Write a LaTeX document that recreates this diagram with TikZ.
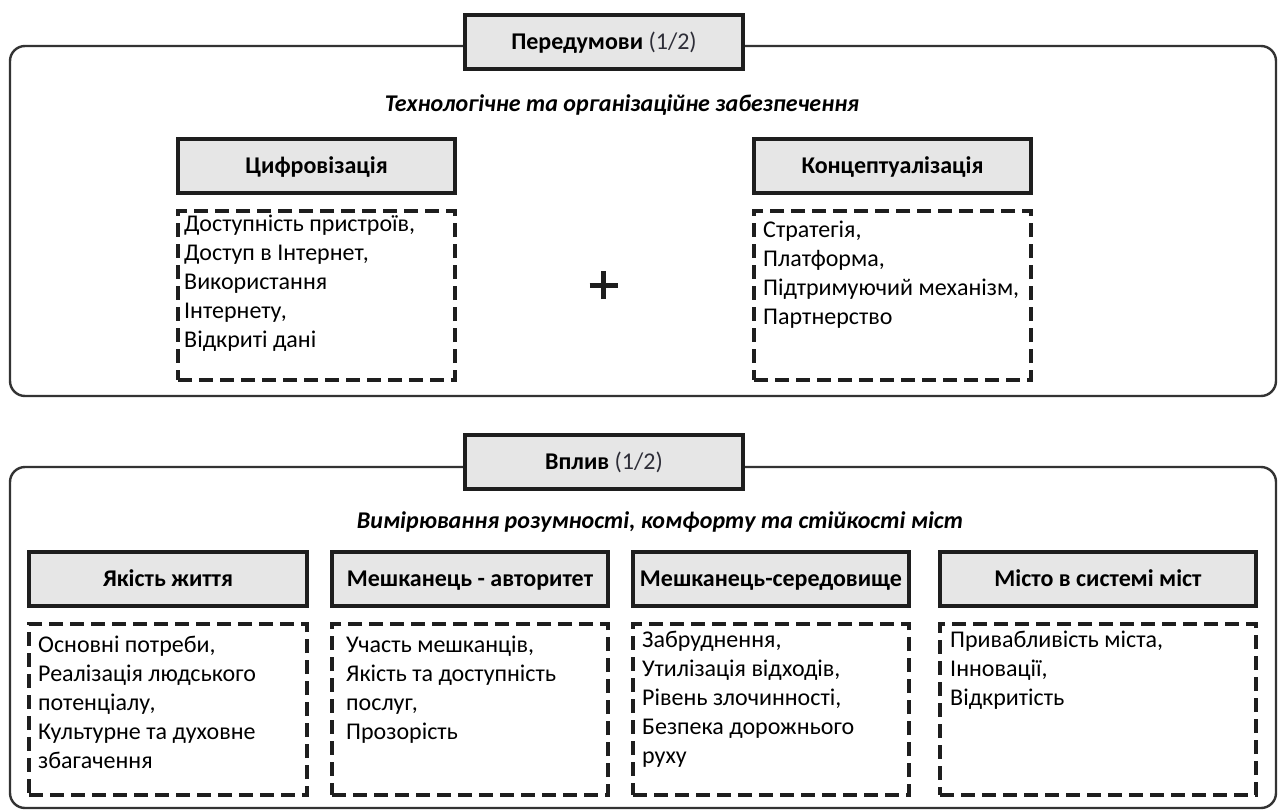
\documentclass[tikz,border=0pt]{standalone}
\usepackage{fontspec}
\setmainfont{Carlito}
\definecolor{boxgray}{HTML}{E6E6E6}
\definecolor{inkline}{HTML}{1E1E1E}
\definecolor{framecol}{HTML}{333333}
\definecolor{softink}{HTML}{2E2E38}
\tikzset{
  panel/.style={draw=framecol, line width=2.4pt, rounded corners=15pt},
  headbox/.style={draw=inkline, line width=4pt, fill=boxgray, inner sep=0pt,
    text height=18pt, text depth=3pt,
    font=\fontsize{24}{29}\selectfont\bfseries},
  listbox/.style={draw=inkline, line width=3.4pt, dash pattern=on 14pt off 7pt, inner sep=0pt},
  listtext/.style={anchor=base west, inner sep=0pt, font=\fontsize{24}{29}\selectfont},
  subtitle/.style={inner sep=0pt, font=\fontsize{24}{29}\selectfont\bfseries\itshape},
}
\newcommand{\itemlist}[2]{\parbox[t]{#1}{\raggedright #2}}
\begin{document}
\begin{tikzpicture}[x=1pt,y=-1pt]
\useasboundingbox (0,0) rectangle (1280,811);
\fill[white] (0,0) rectangle (1280,811);

% ---------- Prerequisites panel ----------
\draw[panel] (10,46) rectangle (1276,396);
\node[headbox, minimum width=278pt, minimum height=54pt] (pre) at (604,42)
  {Передумови \mdseries\color{softink}(1/2)};
\node[subtitle] (presub) at (622,105) {Технологічне та організаційне забезпечення};

\node[headbox, minimum width=277pt, minimum height=54pt] (dig) at (316.5,166) {Цифровізація};
\node[listbox, minimum width=277pt, minimum height=169pt] (digl) at (316.5,295.5) {};
\node[listtext] (digt) at (184,231) {\itemlist{265pt}{Доступність пристроїв,\\Доступ в Інтернет,\\Використання\\Інтернету,\\Відкриті дані}};

\node[headbox, minimum width=277pt, minimum height=54pt] (con) at (892.5,166) {Концептуалізація};
\node[listbox, minimum width=277pt, minimum height=169pt] (conl) at (892.5,295.5) {};
\node[listtext] (cont) at (763,237) {\itemlist{265pt}{Стратегія,\\Платформа,\\Підтримуючий механізм,\\Партнерство}};

% plus sign between the two columns
\coordinate (plus) at (603.5,285);
\draw[inkline, line width=5pt] ([xshift=-14pt]plus) -- ([xshift=14pt]plus);
\draw[inkline, line width=5pt] ([yshift=-14pt]plus) -- ([yshift=14pt]plus);

% ---------- Impact panel ----------
\draw[panel] (10,467) rectangle (1276,808);
\node[headbox, minimum width=278pt, minimum height=54pt] (imp) at (604,462)
  {Вплив \mdseries\color{softink}(1/2)};
\node[subtitle] (impsub) at (660,522) {Вимірювання розумності, комфорту та стійкості міст};

\node[headbox, minimum width=278pt, minimum height=54pt] (q) at (168,579) {Якість життя};
\node[listbox, minimum width=278pt, minimum height=171pt] (ql) at (168,709.5) {};
\node[listtext] (qt) at (38,652) {\itemlist{265pt}{Основні потреби,\\Реалізація людського\\потенціалу,\\Культурне та духовне\\збагачення}};

\node[headbox, minimum width=276pt, minimum height=54pt] (a) at (470,579) {Мешканець - авторитет};
\node[listbox, minimum width=276pt, minimum height=171pt] (al) at (470,709.5) {};
\node[listtext] (at) at (346,652) {\itemlist{260pt}{Участь мешканців,\\Якість та доступність\\послуг,\\Прозорість}};

\node[headbox, minimum width=276pt, minimum height=54pt] (e) at (771,579) {Мешканець-середовище};
\node[listbox, minimum width=276pt, minimum height=171pt] (el) at (771,709.5) {};
\node[listtext] (et) at (642,647) {\itemlist{260pt}{Забруднення,\\Утилізація відходів,\\Рівень злочинності,\\Безпека дорожнього\\руху}};

\node[headbox, minimum width=316pt, minimum height=54pt] (c) at (1098,579) {Місто в системі міст};
\node[listbox, minimum width=316pt, minimum height=171pt] (cl) at (1098,709.5) {};
\node[listtext] (ct) at (950,647) {\itemlist{300pt}{Привабливість міста,\\Інновації,\\Відкритість}};
\end{tikzpicture}
\end{document}
